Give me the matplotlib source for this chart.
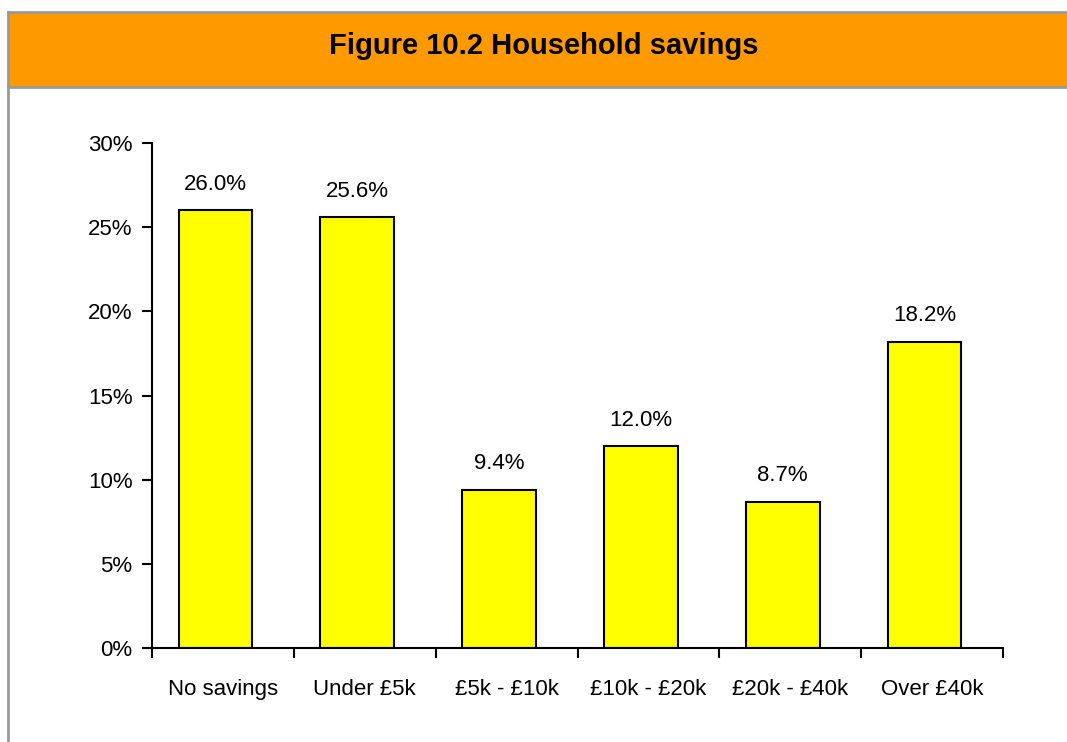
import matplotlib.pyplot as plt
from matplotlib.patches import Rectangle
from matplotlib.lines import Line2D

# data
categories = ["No savings", "Under £5k", "£5k - £10k", "£10k - £20k", "£20k - £40k", "Over £40k"]
shares = [26.0, 25.6, 9.4, 12.0, 8.7, 18.2]
y_ticks = [0, 5, 10, 15, 20, 25, 30]

plt.rcParams["font.family"] = ["Liberation Sans", "DejaVu Sans"]

fig = plt.figure(figsize=(10.67, 7.42), dpi=100)

# header band and frame
fig.patches.append(Rectangle((7.5 / 1067, 1 - 87 / 742), 1, 75 / 742,
                             transform=fig.transFigure, facecolor="#FF9900",
                             edgecolor="none", zorder=0))
fig.add_artist(Line2D([7.5 / 1067, 1], [1 - 12 / 742] * 2, color="#999999", lw=2))
fig.add_artist(Line2D([7.5 / 1067, 1], [1 - 87 / 742] * 2, color="#999999", lw=2))
fig.add_artist(Line2D([7.5 / 1067] * 2, [0, 1 - 12 / 742], color="#999999", lw=2))
fig.text(544 / 1067, 1 - 46 / 742, "Figure 10.2 Household savings",
         ha="center", va="center", fontsize=21, fontweight="bold")

ax = fig.add_axes([152 / 1067, 1 - 648 / 742, (1003 - 152) / 1067, (648 - 143) / 742])

x = list(range(len(categories)))
bar_x = [i - 0.053 for i in x]  # bars sit slightly left of the category centre
ax.bar(bar_x, shares, width=0.52, color="#FFFF00", edgecolor="black", linewidth=1.5)

for xi, v in zip(bar_x, shares):
    ax.annotate(f"{v:.1f}%", (xi, v), xytext=(0, 11), textcoords="offset points",
                ha="center", va="bottom", fontsize=16)

ax.set_xlim(-0.5, len(categories) - 0.5)
ax.set_ylim(0, 30)
ax.set_yticks(y_ticks)
ax.set_yticklabels([f"{t}%" for t in y_ticks])

# ticks at category boundaries, labels centred
ax.set_xticks([i - 0.5 for i in range(len(categories) + 1)])
ax.set_xticklabels([])
ax.set_xticks(x, minor=True)
ax.set_xticklabels(categories, minor=True)
ax.tick_params(axis="x", which="major", direction="out", length=7, width=1.5)
ax.tick_params(axis="x", which="minor", length=0, pad=22, labelsize=16)
ax.tick_params(axis="y", direction="out", length=7, width=1.5, labelsize=16, pad=7)

for side in ["top", "right"]:
    ax.spines[side].set_visible(False)
for side in ["left", "bottom"]:
    ax.spines[side].set_linewidth(1.5)

fig.savefig("out.png", dpi=100)
